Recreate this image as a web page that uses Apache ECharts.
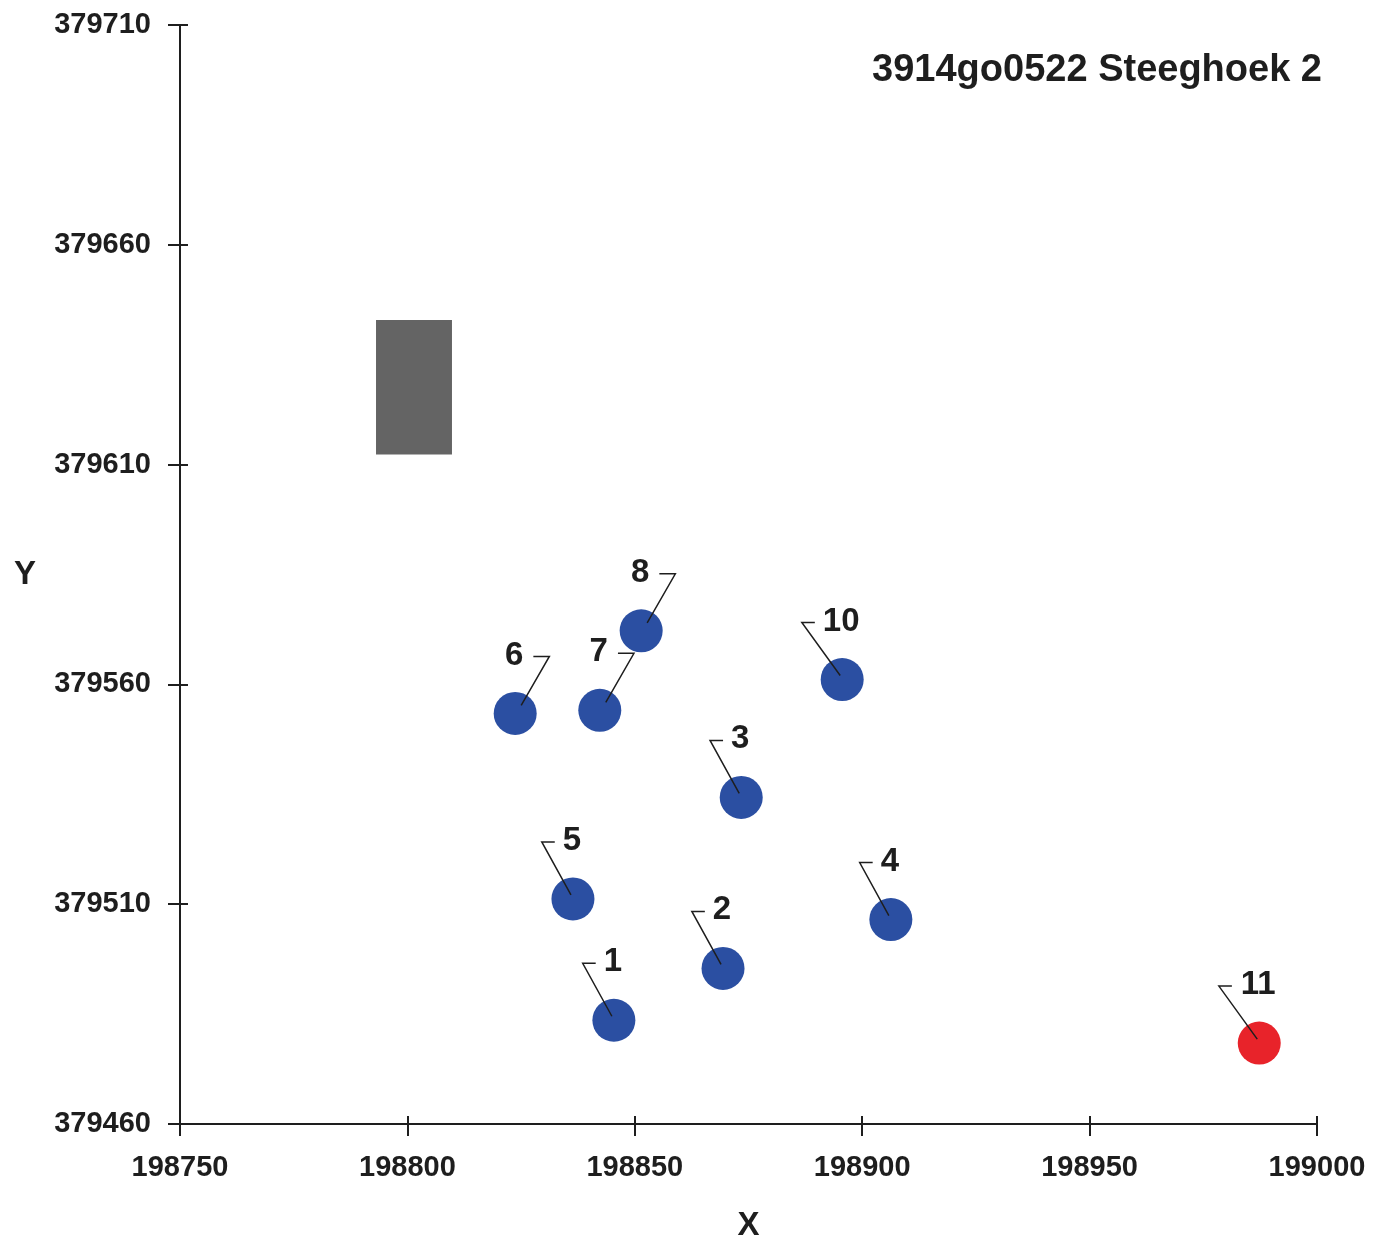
<!DOCTYPE html>
<html><head><meta charset="utf-8">
<script src="https://cdn.jsdelivr.net/npm/echarts@6/dist/echarts.min.js"></script>
<style>html,body{margin:0;padding:0;background:#fff}#c{width:1384px;height:1247px}</style>
</head><body><div id="c"></div>
<script>
const titleText = '3914go0522 Steeghoek 2';
const ids = ['1','2','3','4','5','6','7','8','10','11'];
const xs = [198845.4, 198869.4, 198873.4, 198906.3, 198836.4, 198823.7, 198842.3, 198851.4, 198895.6, 198987.3];
const ys = [379483.6, 379495.4, 379534.3, 379506.5, 379511.2, 379553.4, 379554.1, 379572.2, 379561.1, 379478.4];
const sides = ['L','L','L','L','L','R','R','R','L','L'];
const isRed = [0,0,0,0,0,0,0,0,0,1];
const rectArea = [198793.1, 379642.9, 198809.8, 379612.3];
const xMin = 198750, xMax = 199000, yMin = 379460, yMax = 379710, step = 50;

const FONT = '"Liberation Sans", Arial, sans-serif';
const blue = '#2b4fa2', red = '#e8232a', ink = '#1e1e1e';
const labelSize = 33;

const pts = ids.map((id, i) => [xs[i], ys[i], id, sides[i], isRed[i]]);

const chart = echarts.init(document.getElementById('c'));
const axisCommon = {
  type: 'value', splitLine: {show: false},
  axisLine: {show: true, onZero: false, lineStyle: {color: ink, width: 2}},
  axisTick: {show: true, length: 12, lineStyle: {color: ink, width: 2}},
  axisLabel: {color: ink, fontFamily: FONT, fontWeight: 'bold', fontSize: 29, formatter: v => String(v)}
};
chart.setOption({
  animation: false,
  title: {text: titleText, right: 57, top: 47,
    textStyle: {fontFamily: FONT, fontWeight: 'bold', fontSize: 38, color: ink}},
  grid: {left: 180, right: 67, top: 25, bottom: 118},
  xAxis: [
    Object.assign({}, axisCommon, {min: xMin, max: xMax, interval: step,
      axisLabel: Object.assign({}, axisCommon.axisLabel, {margin: 29}),
      name: 'X', nameLocation: 'middle', nameGap: 85,
      nameTextStyle: {fontFamily: FONT, fontWeight: 'bold', fontSize: 33, color: ink}}),
    {type: 'value', min: xMin, max: xMax, interval: step, position: 'bottom', splitLine: {show: false},
      axisLine: {show: false}, axisLabel: {show: false},
      axisTick: {show: true, inside: true, length: 8, lineStyle: {color: ink, width: 2}}}
  ],
  yAxis: [
    Object.assign({}, axisCommon, {min: yMin, max: yMax, interval: step,
      axisLabel: Object.assign({}, axisCommon.axisLabel, {margin: 29}),
      name: 'Y', nameLocation: 'middle', nameGap: 144, nameRotate: 0,
      nameTextStyle: {fontFamily: FONT, fontWeight: 'bold', fontSize: 33, color: ink}}),
    {type: 'value', min: yMin, max: yMax, interval: step, position: 'left', splitLine: {show: false},
      axisLine: {show: false}, axisLabel: {show: false},
      axisTick: {show: true, inside: true, length: 8, lineStyle: {color: ink, width: 2}}}
  ],
  series: [
    {
      type: 'custom', xAxisIndex: 0, yAxisIndex: 0,
      data: [rectArea],
      renderItem: function (params, api) {
        const p1 = api.coord([api.value(0), api.value(1)]);
        const p2 = api.coord([api.value(2), api.value(3)]);
        return {type: 'rect', shape: {x: p1[0], y: p1[1], width: p2[0] - p1[0], height: p2[1] - p1[1]},
          style: {fill: '#646464'}};
      }
    },
    {
      type: 'scatter', xAxisIndex: 0, yAxisIndex: 0, symbolSize: 43,
      data: pts.map(p => ({value: [p[0], p[1]], itemStyle: {color: p[4] ? red : blue, opacity: 1}})),
      z: 3
    },
    {
      type: 'custom', xAxisIndex: 0, yAxisIndex: 0, z: 4,
      data: pts,
      renderItem: function (params, api) {
        const c = api.coord([api.value(0), api.value(1)]);
        const p = pts[params.dataIndex];
        const txt = p[2], side = p[3];
        const w = txt.length * 0.556 * labelSize;
        const tx = c[0] - 1, ty = c[1] - 58;
        const hy = c[1] - 57;
        let line;
        if (side === 'L') {
          const hs = tx - w / 2 - 21, he = tx - w / 2 - 8;
          line = [[c[0] - 2, c[1] - 4], [hs, hy], [he, hy]];
        } else {
          const hs = tx + w / 2 + 10, he = tx + w / 2 + 26;
          line = [[hs, hy], [he, hy], [c[0] + 6, c[1] - 8]];
        }
        return {type: 'group', children: [
          {type: 'polyline', shape: {points: line}, style: {stroke: ink, lineWidth: 1.5, fill: null}},
          {type: 'text', style: {text: txt, x: tx, y: ty, align: 'center', verticalAlign: 'middle',
            font: 'bold ' + labelSize + 'px ' + FONT, fill: ink}}
        ]};
      }
    }
  ]
});
</script></body></html>
